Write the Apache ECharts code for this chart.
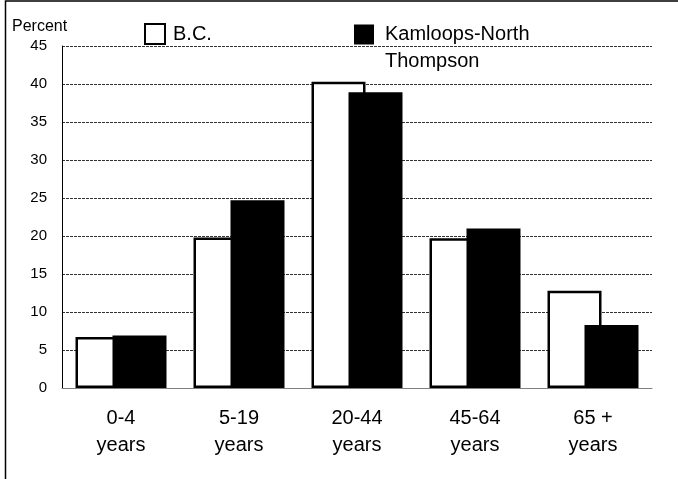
<!DOCTYPE html>
<html>
<head>
<meta charset="utf-8">
<script src="https://cdn.jsdelivr.net/npm/echarts@6/dist/echarts.min.js"></script>
<style>
  html, body { margin: 0; padding: 0; background: #fff; }
  #chart { width: 678px; height: 479px; }
</style>
</head>
<body>
<div id="chart"></div>
<script>
// age groups and shares (percent of population)
const categories = ['0-4\nyears', '5-19\nyears', '20-44\nyears', '45-64\nyears', '65 +\nyears'];
const bcValues = [6.7, 19.8, 40.3, 19.7, 12.8];
const kamloopsValues = [6.9, 24.7, 38.9, 21.0, 8.3];
const yTicks = [0, 5, 10, 15, 20, 25, 30, 35, 40, 45];

const chart = echarts.init(document.getElementById('chart'));

const font = 'Liberation Sans, Arial, sans-serif';

const option = {
    animation: false,
    textStyle: { fontFamily: font, color: '#000' },
    graphic: [
        {
            type: 'rect',
            shape: { x: 5.5, y: 1, width: 700, height: 500 },
            style: { fill: null, stroke: '#000', lineWidth: 1.5 },
            silent: true
        },
        {
            type: 'text',
            left: 12,
            top: 19,
            style: { text: 'Percent', font: '16px ' + font, fill: '#000' }
        }
    ],
    legend: [
        {
            data: ['B.C.'],
            left: 144,
            top: 23,
            padding: 0,
            icon: 'rect',
            itemWidth: 20,
            itemHeight: 20,
            textStyle: { fontSize: 20, fontFamily: font, color: '#000', padding: [3, 0, 0, 3] }
        },
        {
            data: ['Kamloops-North Thompson'],
            left: 354,
            top: -6,
            padding: 0,
            icon: 'rect',
            itemWidth: 20,
            itemHeight: 20,
            // blank first line keeps "Kamloops-North" level with the icon
            formatter: function () { return '\u00a0\nKamloops-North\nThompson'; },
            textStyle: { fontSize: 20, fontFamily: font, color: '#000', lineHeight: 27, padding: [0, 0, 0, 6] }
        }
    ],
    grid: { left: 62, right: 26, top: 46, bottom: 91 },
    xAxis: {
        type: 'category',
        data: categories,
        axisLine: { lineStyle: { color: '#808080', width: 1 } },
        axisTick: { show: false },
        axisLabel: { fontSize: 20, lineHeight: 27, color: '#000', margin: 17, fontFamily: font }
    },
    yAxis: {
        type: 'value',
        min: yTicks[0],
        max: yTicks[yTicks.length - 1],
        interval: 5,
        axisLine: { show: true, lineStyle: { color: '#000', width: 1 } },
        axisTick: { show: false },
        axisLabel: { fontSize: 15, color: '#000', margin: 15, fontFamily: font },
        splitLine: { lineStyle: { color: '#333', type: [3, 1], width: 1 } }
    },
    series: [
        {
            name: 'B.C.',
            type: 'bar',
            data: bcValues,
            barWidth: 54,
            barGap: '-31.5%',
            itemStyle: { color: '#fff', borderColor: '#000', borderWidth: 2.5 }
        },
        {
            name: 'Kamloops-North Thompson',
            type: 'bar',
            data: kamloopsValues,
            barWidth: 54,
            itemStyle: { color: '#000', borderColor: '#000', borderWidth: 0 }
        }
    ]
};

chart.setOption(option);
</script>
</body>
</html>
